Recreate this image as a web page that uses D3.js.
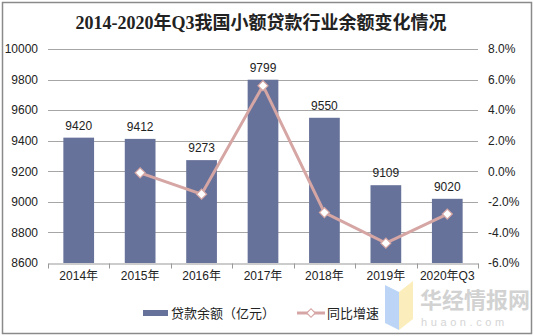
<!DOCTYPE html>
<html><head><meta charset="utf-8">
<script src="https://cdn.jsdelivr.net/npm/d3@7"></script>
<style>
body{margin:0;background:#fff;}
svg text{font-family:"Liberation Sans",Arial,"Noto Sans CJK SC",sans-serif;}
</style></head>
<body><svg id="c" width="534" height="336"></svg>
<script>
const categories = ["2014年","2015年","2016年","2017年","2018年","2019年","2020年Q3"];
const balance = [9420,9412,9273,9799,9550,9109,9020];
const growth = [null,-0.1,-1.5,5.6,-2.7,-4.7,-2.8];
const leftTicks = [8600,8800,9000,9200,9400,9600,9800,10000];
const rightTicks = [-6,-4,-2,0,2,4,6,8];
const titleText = "2014-2020年Q3我国小额贷款行业余额变化情况";
const seriesNames = ["贷款余额（亿元）","同比增速"];

const svg = d3.select("#c");
const W=534,H=336;
const L=48,R=478,T=49,B=263;
const barColor="#67729a", lineColor="#d5a6a4";

svg.append("rect").attr("x",2.5).attr("y",2.5).attr("width",W-5).attr("height",H-5)
  .attr("fill","#fff").attr("stroke","#8a8a8a").attr("stroke-width",1.5);

svg.append("text").attr("x",261).attr("y",29).attr("text-anchor","middle")
  .style("font-family",'"Liberation Serif","Noto Sans CJK SC",serif')
  .style("font-weight","bold").style("font-size","18px").attr("fill","#222").text(titleText);

const x = d3.scaleBand().domain(categories).range([L,R]).paddingInner(0.5).paddingOuter(0.25);
const xb = d3.scaleBand().domain(categories).range([L,R]);
const yL = d3.scaleLinear().domain([8600,10000]).range([B,T]);
const yR = d3.scaleLinear().domain([-6,8]).range([B,T]);

// grid
svg.append("g").selectAll("line").data(leftTicks.filter(d=>d>8600)).join("line")
  .attr("x1",L).attr("x2",R).attr("y1",d=>Math.round(yL(d))+0.5).attr("y2",d=>Math.round(yL(d))+0.5)
  .attr("stroke","#a6a6a6").attr("stroke-width",1);

// bars
svg.append("g").selectAll("rect").data(balance).join("rect")
  .attr("x",(d,i)=>x(categories[i])).attr("width",x.bandwidth())
  .attr("y",d=>yL(d)).attr("height",d=>B-yL(d)).attr("fill",barColor);

// bar labels
svg.append("g").selectAll("text").data(balance).join("text")
  .attr("x",(d,i)=>x(categories[i])+x.bandwidth()/2).attr("y",d=>yL(d)-8)
  .attr("text-anchor","middle").style("font-size","12px").attr("fill","#222").text(d=>d);

// x axis
const xAxis = d3.axisBottom(xb).tickSize(0).tickPadding(8);
const gx = svg.append("g").attr("transform",`translate(0,${B+0.5})`).call(xAxis);
gx.select(".domain").attr("stroke","#999");
gx.selectAll("text").style("font-size","12px").attr("fill","#222");
gx.selectAll(".bnd").data(d3.range(categories.length+1)).join("line")
  .attr("x1",i=>Math.round(L+i*xb.step())+0.5).attr("x2",i=>Math.round(L+i*xb.step())+0.5)
  .attr("y1",0).attr("y2",5).attr("stroke","#999");

// left axis
const gl = svg.append("g").attr("transform",`translate(${L},0)`)
  .call(d3.axisLeft(yL).tickValues(leftTicks).tickSize(0).tickPadding(10).tickFormat(d3.format("d")));
gl.select(".domain").remove();
gl.selectAll("text").style("font-size","12px").attr("fill","#222");

// right axis
const gr = svg.append("g").attr("transform",`translate(${R},0)`)
  .call(d3.axisRight(yR).tickValues(rightTicks).tickSize(0).tickPadding(10).tickFormat(d=>d.toFixed(1)+"%"));
gr.select(".domain").remove();
gr.selectAll("text").style("font-size","12px").attr("fill","#222");

// line
const pts = growth.map((g,i)=>({g,c:categories[i]})).filter(d=>d.g!==null);
const line = d3.line().x(d=>x(d.c)+x.bandwidth()/2).y(d=>yR(d.g));
svg.append("path").datum(pts).attr("d",line).attr("fill","none")
  .attr("stroke",lineColor).attr("stroke-width",3);
const marker = d3.symbol().type(d3.symbolSquare).size(50);
svg.append("g").selectAll("path").data(pts).join("path")
  .attr("transform",d=>`translate(${x(d.c)+x.bandwidth()/2},${yR(d.g)}) rotate(45)`)
  .attr("d",marker).attr("fill","#fff").attr("stroke",lineColor).attr("stroke-width",1.2);

// legend
const lg = svg.append("g");
lg.append("rect").attr("x",143).attr("y",310).attr("width",25).attr("height",6).attr("fill",barColor);
lg.append("text").attr("x",171).attr("y",318).style("font-size","13px").attr("fill","#222").text(seriesNames[0]);
lg.append("line").attr("x1",297).attr("x2",325).attr("y1",313).attr("y2",313).attr("stroke",lineColor).attr("stroke-width",3);
lg.append("path").attr("transform","translate(311,313) rotate(45)").attr("d",d3.symbol().type(d3.symbolSquare).size(36))
  .attr("fill","#fff").attr("stroke",lineColor).attr("stroke-width",1.2);
lg.append("text").attr("x",327).attr("y",318).style("font-size","13px").attr("fill","#222").text(seriesNames[1]);

// watermark
const wm = svg.append("g").attr("opacity",0.75);
wm.append("path").attr("d","M385,285 L399,292 L399,330 L385,323 Z").attr("fill","#a6c8f5");
wm.append("path").attr("d","M399,292 L413,281 L413,319 L399,330 Z").attr("fill","#fbe9a6");
wm.append("text").attr("x",420).attr("y",308).style("font-family",'"Noto Sans CJK SC",sans-serif')
  .style("font-size","22px").style("font-weight","bold").attr("fill","#c4c4c4").text("华经情报网");
wm.append("text").attr("x",421).attr("y",326).style("font-size","11px").attr("letter-spacing","3.6px")
  .attr("fill","#c8c8c8").text("huaon.com");
</script></body></html>
